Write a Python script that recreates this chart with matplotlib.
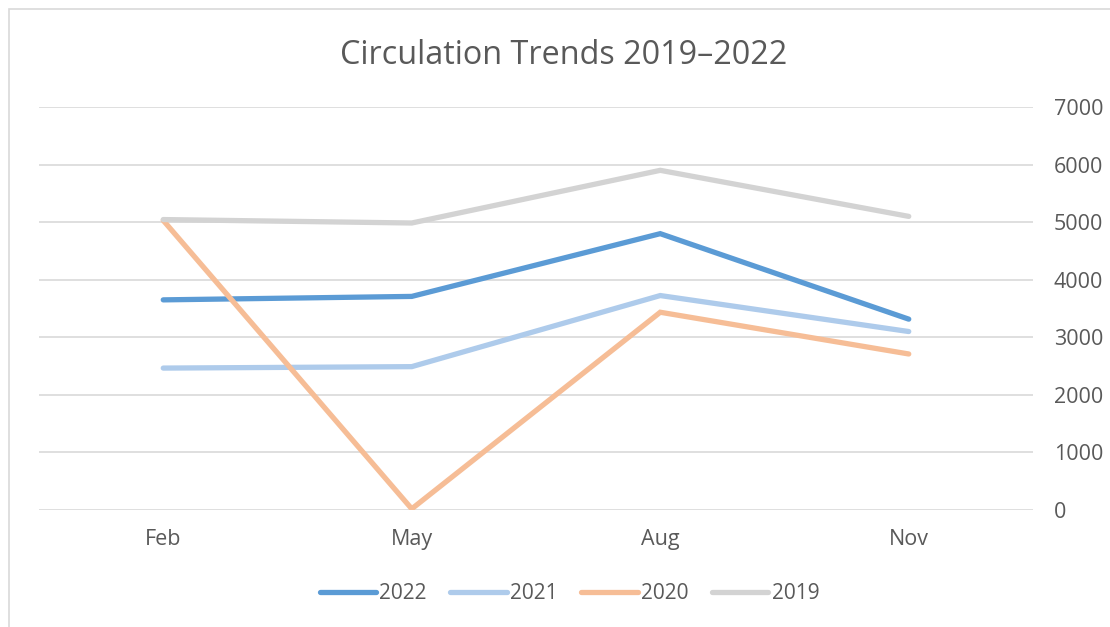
import matplotlib.pyplot as plt
from matplotlib.patches import Rectangle

# Data
months = ['Feb', 'May', 'Aug', 'Nov']
y2022 = [3650, 3710, 4800, 3315]
y2021 = [2465, 2490, 3725, 3100]
y2020 = [5030, 20, 3435, 2710]
y2019 = [5045, 4985, 5900, 5100]

series = [('2022', y2022, '#5B9BD5'),
          ('2021', y2021, '#AECBEB'),
          ('2020', y2020, '#F6BD96'),
          ('2019', y2019, '#D3D3D3')]

plt.rcParams['font.family'] = ['Open Sans', 'DejaVu Sans']
text_color = '#595959'

fig = plt.figure(figsize=(11.1, 6.27), dpi=100)
ax = fig.add_axes([39 / 1110, 117 / 627, 994 / 1110, 403 / 627])

x = range(len(months))
for name, vals, col in series:
    ax.plot(x, vals, color=col, lw=3.8, solid_capstyle='round',
            solid_joinstyle='miter', label=name)

ax.set_xlim(-0.5, 3.5)
ax.set_ylim(0, 7000)
ax.set_yticks(range(0, 7001, 1000))
ax.set_xticks(list(x))
ax.set_xticklabels(months)
ax.yaxis.tick_right()
ax.grid(axis='y', color='#D9D9D9', lw=1.2)
ax.set_axisbelow(True)
for s in ax.spines.values():
    s.set_visible(False)
ax.tick_params(axis='both', length=0, labelsize=15.5, labelcolor=text_color)
ax.tick_params(axis='y', pad=15)
ax.tick_params(axis='x', pad=14)

fig.text(0.508, 0.912, 'Circulation Trends 2019\u20132022', ha='center', va='center',
         fontsize=23.3, color=text_color)

leg = fig.legend(loc='center', bbox_to_anchor=(0.513, 0.053), ncol=4, frameon=False,
                 fontsize=15, handlelength=2.7, handletextpad=0.15, columnspacing=1.15)
for t in leg.get_texts():
    t.set_color(text_color)

# light frame around the chart
fig.patches.append(Rectangle((9 / 1110, -0.05), 1.2, 0.05 + 618 / 627,
                             transform=fig.transFigure, fill=False,
                             edgecolor='#D9D9D9', lw=1.2))

fig.savefig('out.png', dpi=100, facecolor='white')
